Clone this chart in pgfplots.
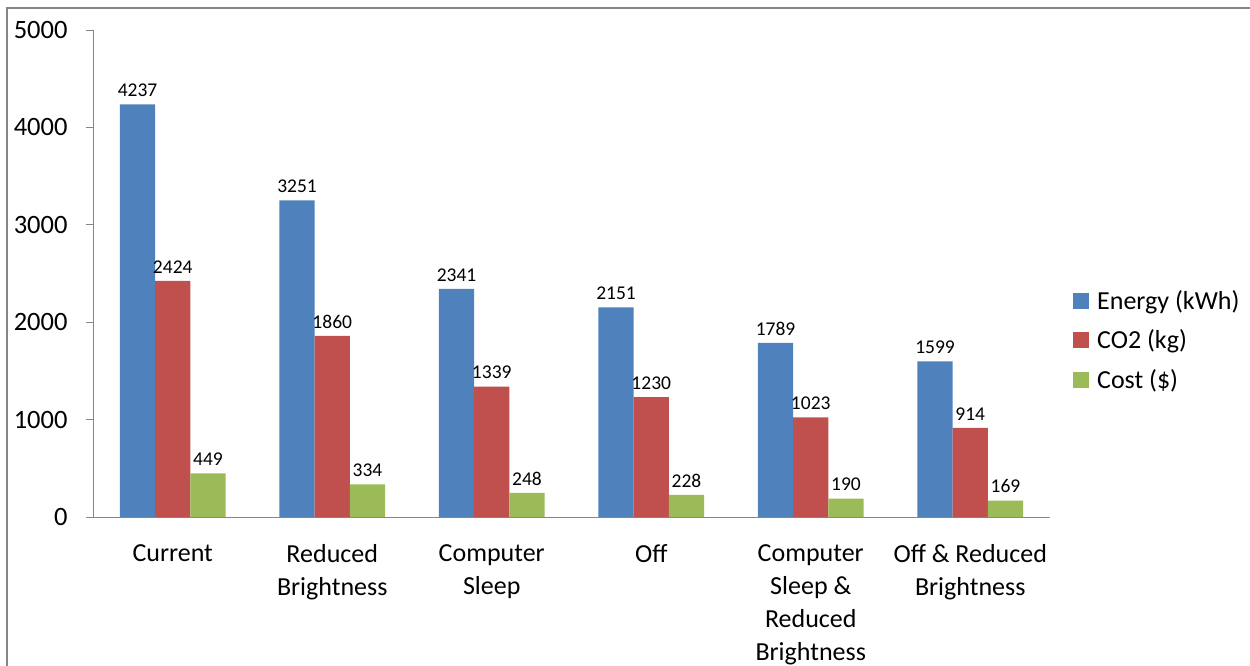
\documentclass[border=0pt]{standalone}
\usepackage{fontspec}
\setmainfont{Carlito}
\usepackage{pgfplots}
\pgfplotsset{compat=1.18}
\usepackage{pgfplotstable}

\definecolor{energyblue}{HTML}{4F81BD}
\definecolor{co2red}{HTML}{C0504D}
\definecolor{costgreen}{HTML}{9BBB59}
\definecolor{axisgray}{HTML}{868686}

% category index, value
\pgfplotstableread{
x  energy co2  cost
0.5 4237  2424 449
1.5 3251  1860 334
2.5 2341  1339 248
3.5 2151  1230 228
4.5 1789  1023 190
5.5 1599  914  169
}\savings

\begin{document}
\begin{tikzpicture}[x=1bp,y=1bp]
\useasboundingbox (0,0) rectangle (1250,-666);
% chart frame
\draw[axisgray, line width=1.5bp] (7,-700) -- (7,-8) -- (1300,-8);
\begin{axis}[
  at={(93bp,-517bp)}, anchor=south west,
  scale only axis, width=957bp, height=487bp,
  xmin=0, xmax=6, ymin=0, ymax=5000,
  axis x line*=bottom, axis y line*=left,
  axis line style={axisgray, line width=1bp},
  tick align=outside,
  major tick length=7bp, minor tick length=8bp,
  every tick/.style={axisgray, line width=1bp},
  xtick={0.5,1.5,2.5,3.5,4.5,5.5},
  xtick style={draw=none},
  minor xtick={0,1,2,3,4,5,6},
  xticklabels={Current, Reduced\\Brightness, Computer\\Sleep, Off,
    Computer\\Sleep \&\\Reduced\\Brightness, Off \& Reduced\\Brightness},
  xticklabel style={align=center, font=\fontsize{26bp}{33bp}\selectfont,
    anchor=north, yshift=-17bp},
  ytick={0,1000,2000,3000,4000,5000},
  yticklabel style={font=\fontsize{26.5bp}{30bp}\selectfont, anchor=east, xshift=-15bp},
  /pgf/number format/assume math mode=true,
  scaled y ticks=false,
  yticklabel={\pgfmathprintnumber[fixed,1000 sep={}]{\tick}},
  ybar=0pt, bar width=35.2bp,
  nodes near coords,
  every node near coord/.append style={font=\fontsize{19.5bp}{22bp}\selectfont,
    text=black, /pgf/number format/1000 sep={}, yshift=4bp},
  legend style={at={(rel axis cs:1.024,0.474)}, anchor=north west, draw=none,
    font=\fontsize{26bp}{30bp}\selectfont, row sep=15bp, inner xsep=0bp,
    /tikz/every odd column/.append style={column sep=6bp}},
  legend cell align=left,
  legend image code/.code={\fill[#1] (0bp,-8bp) rectangle (16bp,8bp);},
]
\addplot[fill=energyblue, draw=none] table[x=x, y=energy] {\savings};
\addplot[fill=co2red, draw=none] table[x=x, y=co2] {\savings};
\addplot[fill=costgreen, draw=none] table[x=x, y=cost] {\savings};
\legend{Energy (kWh), CO2 (kg), Cost (\$)}
\end{axis}
\end{tikzpicture}
\end{document}
